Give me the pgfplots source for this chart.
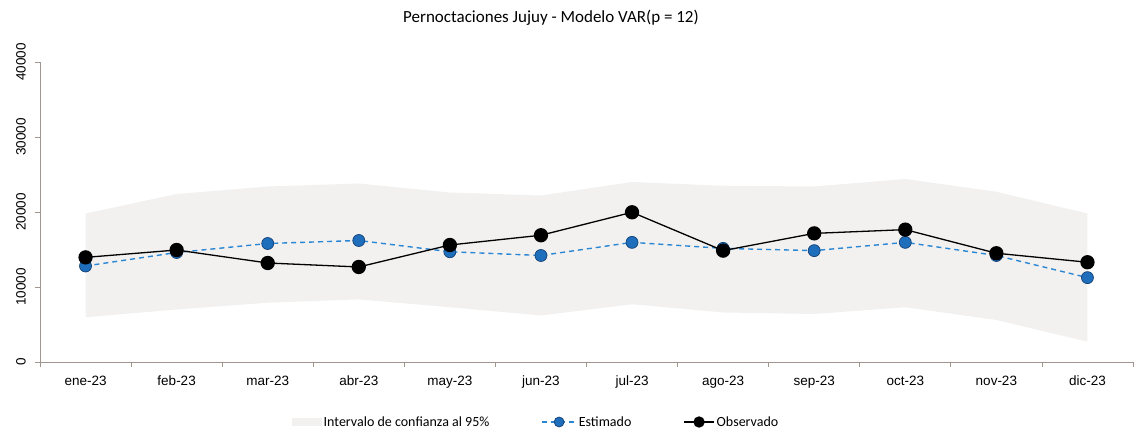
\documentclass[border=0pt]{standalone}
\usepackage{fontspec}
\setmainfont{Liberation Sans}
\newfontfamily\carlito{Carlito}
\usepackage{pgfplots}
\pgfplotsset{compat=1.18}
\definecolor{axisc}{HTML}{A0958F}
\definecolor{bandc}{HTML}{F2F1F0}
\definecolor{estline}{HTML}{2B86D4}
\definecolor{estfill}{HTML}{1F6EBC}
\definecolor{estedge}{HTML}{123F75}
\begin{document}
\begin{tikzpicture}
\begin{axis}[name=ax, scale only axis, width=1093pt, height=300pt,
  xmin=-0.5, xmax=11.5, ymin=0, ymax=40000,
  axis x line*=bottom, axis y line*=left,
  axis line style={axisc, line width=0.8pt},
  every tick/.style={axisc, line width=0.8pt},
  tick align=outside,
  xtick={0,...,11},
  xticklabels={ene-23,feb-23,mar-23,abr-23,may-23,jun-23,jul-23,ago-23,sep-23,oct-23,nov-23,dic-23},
  major x tick style={draw=none},
  minor xtick={-0.5,0.5,...,11.5},
  minor tick length=5pt,
  major tick length=5pt,
  ytick={0,10000,20000,30000,40000},
  scaled y ticks=false,
  /pgf/number format/assume math mode=true,
  /pgf/number format/set thousands separator={},
  yticklabel style={rotate=90, anchor=south, inner ysep=9pt, font=\fontsize{13.5}{16}\selectfont},
  xticklabel style={font=\fontsize{13.5}{16}\selectfont, text height=10pt, text depth=0pt, yshift=-5pt},
  legend style={at={(0.4538,-0.2)}, anchor=center, draw=none, fill=none,
    font=\carlito\fontsize{14}{16}\selectfont,
    /tikz/every even column/.append style={column sep=50pt}},
  legend columns=3, legend cell align=left,
  clip=false,
]
\addplot[fill=bandc, draw=none,
  legend image code/.code={\fill[bandc] (0pt,-4pt) rectangle (30pt,4pt);}]
  coordinates {(0,19800)(1,22400)(2,23400)(3,23800)(4,22600)(5,22200)(6,24000)(7,23500)(8,23400)(9,24400)(10,22700)(11,19800)
  (11,2700)(10,5600)(9,7300)(8,6400)(7,6600)(6,7700)(5,6200)(4,7300)(3,8350)(2,7900)(1,7000)(0,5960)};
\addlegendentry{Intervalo de confianza al 95\%}
\addplot[estline, line width=1.4pt, dash pattern=on 5pt off 4pt,
  mark=*, mark size=6pt, mark options={solid, fill=estfill, draw=estedge, line width=0.7pt},
  legend image code/.code={\draw[mark repeat=2, mark phase=2, mark size=5pt] plot coordinates {(0pt,0pt) (17pt,0pt) (34pt,0pt)};}]
  coordinates {(0,12800)(1,14600)(2,15800)(3,16200)(4,14700)(5,14200)(6,15950)(7,15150)(8,14850)(9,15950)(10,14200)(11,11250)};
\addlegendentry{Estimado}
\addplot[black, line width=1.3pt,
  mark=*, mark size=6.5pt, mark options={fill=black, draw=black},
  legend image code/.code={\draw[mark repeat=2, mark phase=2, mark size=5pt] plot coordinates {(0pt,0pt) (15pt,0pt) (30pt,0pt)};}]
  coordinates {(0,13950)(1,14930)(2,13200)(3,12670)(4,15600)(5,16900)(6,19960)(7,14850)(8,17150)(9,17650)(10,14500)(11,13300)};
\addlegendentry{Observado}
\end{axis}
\path (ax.south west) ++(511pt,344pt) node[font=\carlito\fontsize{17}{20}\selectfont] {Pernoctaciones Jujuy - Modelo VAR(p = 12)};
\pgfresetboundingbox
\path (ax.south west) ++(-40pt,-77pt) rectangle ++(1135pt,439pt);
\end{tikzpicture}
\end{document}
